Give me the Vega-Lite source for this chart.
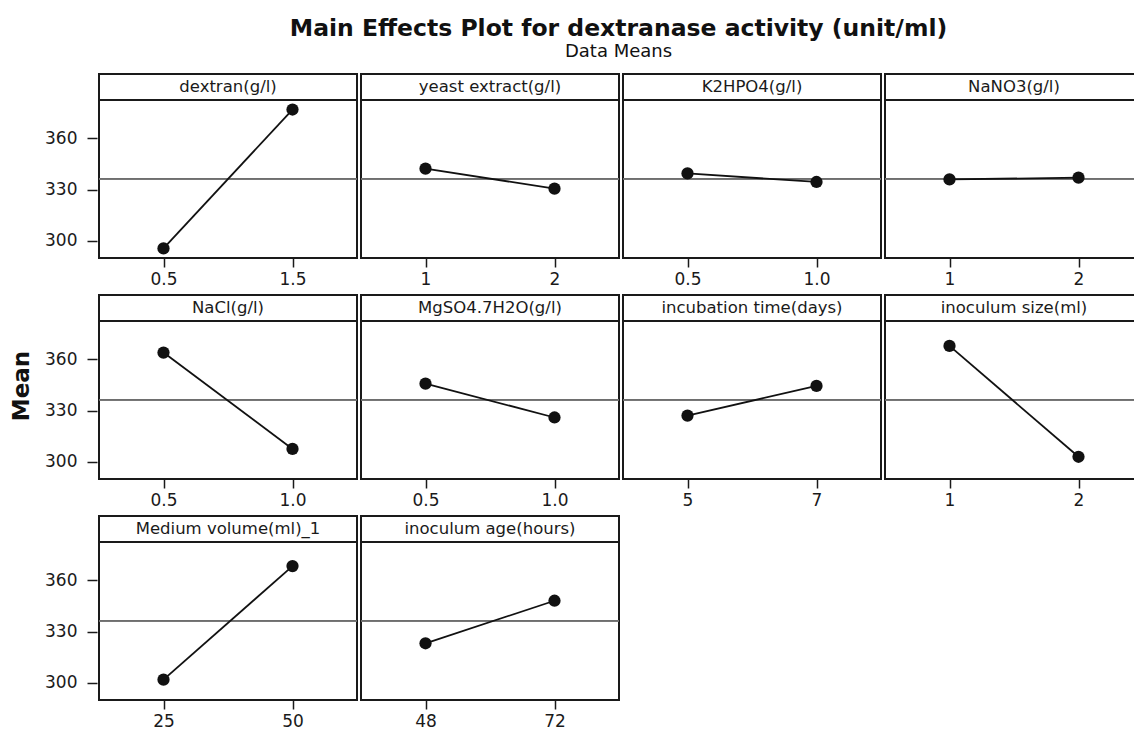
{
  "$schema": "https://vega.github.io/schema/vega-lite/v6.json",
  "padding": {"left": 0, "top": 16, "right": 0, "bottom": 0},
  "background": "white",
  "title": {
    "text": "Main Effects Plot for dextranase activity (unit/ml)",
    "subtitle": "Data Means",
    "anchor": "middle",
    "dx": 46,
    "font": "DejaVu Sans",
    "fontSize": 23.5,
    "fontWeight": "bold",
    "color": "#111",
    "subtitleFont": "DejaVu Sans",
    "subtitleFontSize": 18,
    "subtitleColor": "#111",
    "subtitlePadding": 3,
    "offset": 12
  },
  "config": {
    "view": {"stroke": "#1a1a1a", "strokeWidth": 2},
    "font": "DejaVu Sans",
    "axis": {
      "grid": false,
      "domain": false,
      "tickColor": "#1a1a1a",
      "tickWidth": 1.5,
      "labelColor": "#1a1a1a",
      "labelFont": "DejaVu Sans",
      "labelFontSize": 17
    }
  },
  "spacing": 0,
  "hconcat": [
    {
      "width": 44,
      "height": 624,
      "view": {"stroke": null},
      "data": {"values": [{"label": "Mean"}]},
      "mark": {"type": "text", "angle": 270, "fontWeight": "bold", "fontSize": 23, "font": "DejaVu Sans", "color": "#111", "baseline": "middle"},
      "encoding": {"text": {"field": "label"}}
    },
    {
      "data": {
        "values": [
          {"factor": "dextran(g/l)", "level": "0.5", "mean": 295.6},
          {"factor": "dextran(g/l)", "level": "1.5", "mean": 376.9},
          {"factor": "yeast extract(g/l)", "level": "1", "mean": 342.3},
          {"factor": "yeast extract(g/l)", "level": "2", "mean": 330.6},
          {"factor": "K2HPO4(g/l)", "level": "0.5", "mean": 339.5},
          {"factor": "K2HPO4(g/l)", "level": "1.0", "mean": 334.5},
          {"factor": "NaNO3(g/l)", "level": "1", "mean": 336.0},
          {"factor": "NaNO3(g/l)", "level": "2", "mean": 337.0},
          {"factor": "NaCl(g/l)", "level": "0.5", "mean": 364.0},
          {"factor": "NaCl(g/l)", "level": "1.0", "mean": 307.6},
          {"factor": "MgSO4.7H2O(g/l)", "level": "0.5", "mean": 345.8},
          {"factor": "MgSO4.7H2O(g/l)", "level": "1.0", "mean": 326.0},
          {"factor": "incubation time(days)", "level": "5", "mean": 327.1},
          {"factor": "incubation time(days)", "level": "7", "mean": 344.5},
          {"factor": "inoculum size(ml)", "level": "1", "mean": 367.9},
          {"factor": "inoculum size(ml)", "level": "2", "mean": 303.0},
          {"factor": "Medium volume(ml)_1", "level": "25", "mean": 301.9},
          {"factor": "Medium volume(ml)_1", "level": "50", "mean": 368.4},
          {"factor": "inoculum age(hours)", "level": "48", "mean": 323.2},
          {"factor": "inoculum age(hours)", "level": "72", "mean": 348.1}
        ]
      },
      "facet": {
        "field": "factor",
        "type": "nominal",
        "sort": ["dextran(g/l)", "yeast extract(g/l)", "K2HPO4(g/l)", "NaNO3(g/l)", "NaCl(g/l)", "MgSO4.7H2O(g/l)", "incubation time(days)", "inoculum size(ml)", "Medium volume(ml)_1", "inoculum age(hours)"],
        "header": {
          "title": null,
          "labelFont": "DejaVu Sans",
          "labelFontSize": 16.5,
          "labelColor": "#1a1a1a",
          "labelBaseline": "middle",
          "labelPadding": -29
        }
      },
      "columns": 4,
      "spacing": {"row": 6, "column": 0},
      "resolve": {"scale": {"x": "independent"}},
      "spec": {
        "width": 258,
        "height": 184,
        "encoding": {
          "x": {
            "field": "level",
            "type": "ordinal",
            "scale": {"type": "point", "padding": 0.5},
            "axis": {"title": null, "labelAngle": 0, "tickSize": 9, "labelPadding": 4}
          },
          "y": {
            "field": "mean",
            "type": "quantitative",
            "scale": {"domain": [290, 397.7], "nice": false, "zero": false},
            "axis": {"title": null, "values": [300, 330, 360], "tickSize": 10, "labelPadding": 10}
          }
        },
        "layer": [
          {
            "mark": {"type": "rule", "color": "#6e6e6e", "strokeWidth": 1.6},
            "encoding": {"x": null, "y": {"datum": 336.3}}
          },
          {
            "mark": {"type": "rule", "color": "#1a1a1a", "strokeWidth": 2},
            "encoding": {"x": null, "y": {"datum": 382.5}}
          },
          {
            "mark": {"type": "line", "color": "#111", "strokeWidth": 1.8},
            "encoding": {}
          },
          {
            "mark": {"type": "point", "filled": true, "color": "#111", "opacity": 1, "size": 150},
            "encoding": {}
          }
        ]
      }
    }
  ]
}
